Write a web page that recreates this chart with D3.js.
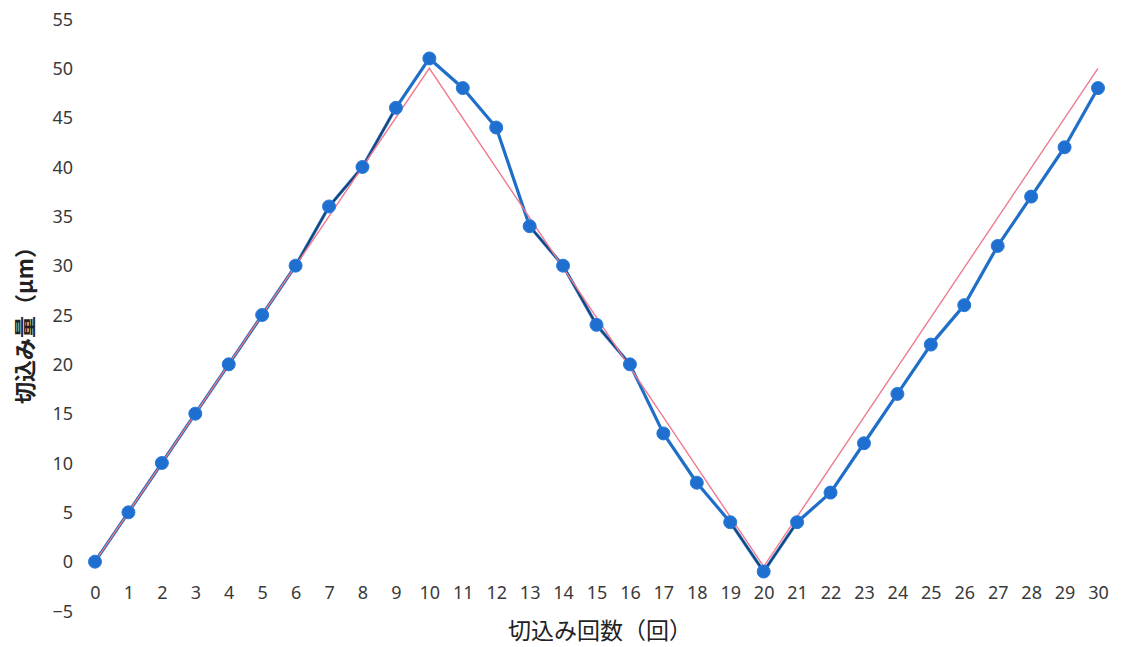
<!DOCTYPE html>
<html><head><meta charset="utf-8">
<script src="https://cdn.jsdelivr.net/npm/d3@7"></script>
<style>
html,body{margin:0;padding:0;background:#fff;}
svg{display:block;}
</style>
</head><body>
<svg id="chart" width="1127" height="647"></svg>
<script>
// ---- data ----
const counts = d3.range(0, 31); // 切込み回数 0..30
const measured = [0,5,10,15,20,25,30,36,40,46,51,48,44,34,30,24,20,13,8,4,-1,4,7,12,17,22,26,32,37,42,48];
const idealX = [0,10,20,30];
const idealY = [0,50,-0.5,50];
const darkRanges = [[0,9],[13,16],[19,21]];
const yTicks = [-5,0,5,10,15,20,25,30,35,40,45,50,55];
const xTitle = "切込み回数（回）";
const yTitle = "切込み量（μm）";

// ---- layout ----
const svg = d3.select("#chart");
const x = d3.scaleLinear().domain([0,30]).range([95,1098]);
const y = d3.scaleLinear().domain([-5,55]).range([611,19]);

const fontNum = "'Noto Sans','Open Sans',sans-serif";
const fontJP = "'Noto Sans CJK JP','Noto Sans',sans-serif";

// y axis (labels only)
const yAxis = d3.axisLeft(y).tickValues(yTicks).tickSize(0).tickPadding(0).tickFormat(d3.format("d"));
const gy = svg.append("g").attr("transform","translate(73,0)").call(yAxis);
gy.select(".domain").remove();
gy.selectAll("text").attr("font-family",fontNum).attr("font-size",18).attr("fill","#3a3a3a").attr("text-anchor","end").attr("dy","0.34em");

// x axis (labels only)
const xAxis = d3.axisBottom(x).tickValues(counts).tickSize(0).tickPadding(0).tickFormat(d3.format("d"));
const gx = svg.append("g").attr("transform","translate(0,593)").call(xAxis);
gx.select(".domain").remove();
gx.selectAll("text").attr("font-family",fontNum).attr("font-size",18).attr("fill","#3a3a3a").attr("dy","0.34em");

// axis titles
svg.append("text").attr("x",600).attr("y",631).attr("dy","0.35em").attr("text-anchor","middle")
  .attr("font-family",fontJP).attr("font-size",23).attr("fill","#222").text(xTitle);
svg.append("text").attr("transform","translate(25,320) rotate(-90)").attr("dy","0.35em").attr("text-anchor","middle")
  .attr("font-family",fontJP).attr("font-size",22).attr("font-weight","bold").attr("fill","#222").text(yTitle);

const pts = counts.map((c,i)=>({c, v: measured[i]}));
const line = d3.line().x(d=>x(d.c)).y(d=>y(d.v));

// blue measured line
svg.append("path").datum(pts).attr("d",line).attr("fill","none")
  .attr("stroke","#1f6fc8").attr("stroke-width",3.2).attr("stroke-linejoin","round");

// dark core on some segments
darkRanges.forEach(([a,b])=>{
  svg.append("path").datum(pts.filter(d=>d.c>=a && d.c<=b)).attr("d",line).attr("fill","none")
    .attr("stroke","#1d3350").attr("stroke-width",1.4).attr("opacity",0.85);
});

// pink ideal line
const ideal = idealX.map((c,i)=>({c, v: idealY[i]}));
svg.append("path").datum(ideal).attr("d",line).attr("fill","none")
  .attr("stroke","#f07a90").attr("stroke-width",1.4);

// dots
svg.selectAll("circle.pt").data(pts).enter().append("circle").attr("class","pt")
  .attr("cx",d=>x(d.c)).attr("cy",d=>y(d.v)).attr("r",6.5)
  .attr("fill","#1e6fd0").attr("stroke","#2b7ad8").attr("stroke-width",1);
</script>
</body></html>
